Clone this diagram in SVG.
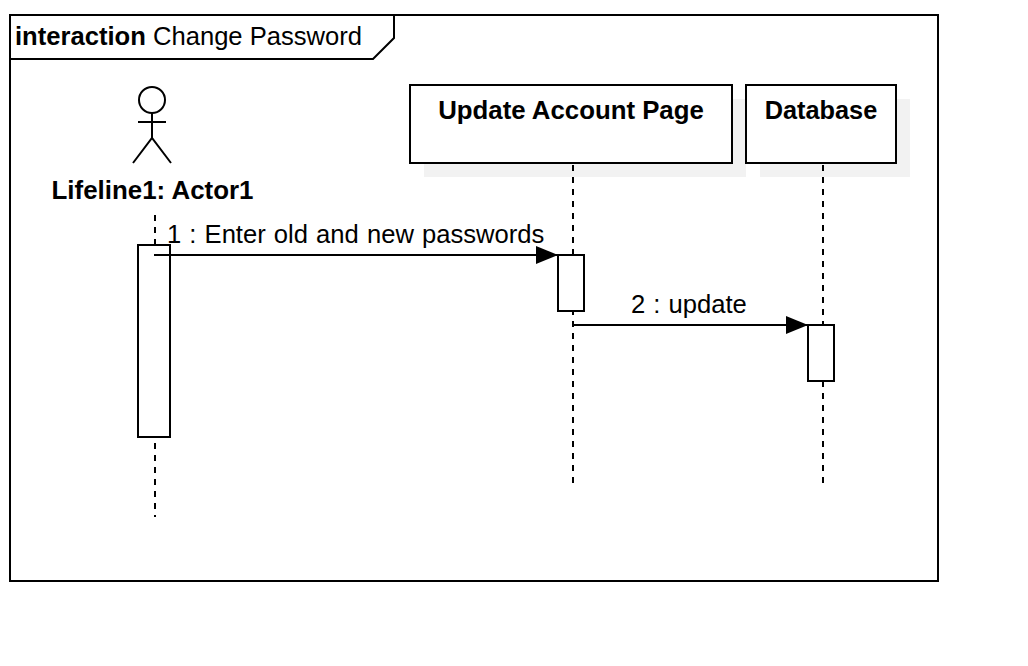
<svg xmlns="http://www.w3.org/2000/svg" width="1028" height="666" viewBox="0 0 1028 666">
<style>
text{font-family:"Liberation Sans",Arial,sans-serif;font-size:25.6px;fill:#000}
.b{font-weight:bold}
.m{word-spacing:1px}
.s{fill:#fff;stroke:#000;stroke-width:2}
.sh{fill:#000;fill-opacity:.05;stroke:none}
.l{fill:none;stroke:#000;stroke-width:2}
.d{fill:none;stroke:#000;stroke-width:2;stroke-dasharray:6 6}
</style>
<defs><marker id="arrow" markerUnits="userSpaceOnUse" markerWidth="22" markerHeight="18" refX="22" refY="9" orient="auto"><path d="M0 0L22 9L0 18Z" fill="#000"/></marker></defs>
<rect width="1028" height="666" fill="#fff"/>
<g id="frame">
<rect x="10" y="15" width="928" height="566" fill="#fff" stroke="#000" stroke-width="2"/>
<path class="l" d="M10 59H373L394 38V15"/>
<text x="15" y="45"><tspan class="b">interaction</tspan> Change Password</text>
</g>
<g id="lifelines">
<path class="d" d="M155 215V517"/>
<path class="d" d="M573 165V484"/>
<path class="d" d="M823 165V484"/>
</g>
<g id="actor">
<circle cx="152" cy="100" r="13" class="s"/>
<path class="l" d="M152 113V138M138 122H166M133 163L152 138L171 163"/>
<text class="b" x="152.500" y="199" text-anchor="middle" style="font-size:25.9px">Lifeline1: Actor1</text>
</g>
<g id="page">
<rect class="sh" x="424" y="99" width="322" height="78"/>
<rect class="s" x="410" y="85" width="322" height="78"/>
<text class="b" x="571" y="119" text-anchor="middle" style="font-size:25.8px">Update Account Page</text>
</g>
<g id="database">
<rect class="sh" x="760" y="99" width="150" height="78"/>
<rect class="s" x="746" y="85" width="150" height="78"/>
<text class="b" x="821" y="119" text-anchor="middle" style="font-size:25.3px">Database</text>
</g>
<g id="activations">
<rect class="s" x="138" y="245" width="32" height="192"/>
<rect class="s" x="558" y="255" width="26" height="56"/>
<rect class="s" x="808" y="325" width="26" height="56"/>
</g>
<g id="connectors">
<path class="l" d="M154 255H558" marker-end="url(#arrow)"/>
<path class="l" d="M573 325H808" marker-end="url(#arrow)"/>
<text class="m" x="167" y="243">1 : Enter old and new passwords</text>
<text class="m" x="631" y="313">2 : update</text>
</g>
</svg>
